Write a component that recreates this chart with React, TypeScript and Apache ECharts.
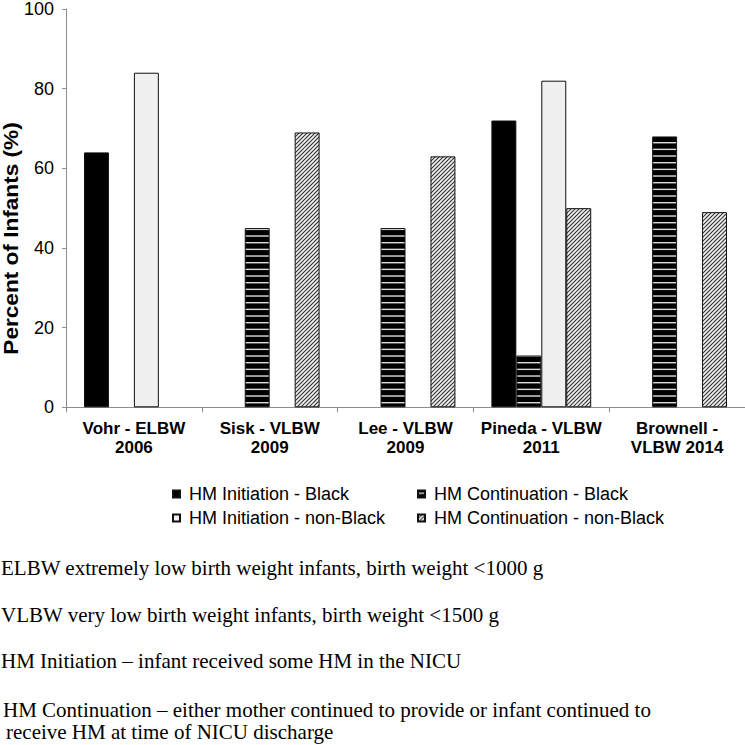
import React, { useEffect, useRef } from "react";
import * as echarts from "echarts";

const categories = [
  "Vohr - ELBW\n2006",
  "Sisk - VLBW\n2009",
  "Lee - VLBW\n2009",
  "Pineda - VLBW\n2011",
  "Brownell -\nVLBW 2014",
];
const seriesNames = [
  "HM Initiation - Black",
  "HM Continuation - Black",
  "HM Initiation - non-Black",
  "HM Continuation - non-Black",
];
const initBlack = [64, null, null, 72, null];
const contBlack = [null, 45, 45, 13, 68];
const initNonBlack = [84, null, null, 82, null];
const contNonBlack = [null, 69, 63, 50, 49];
const yAxisTitle = "Percent of Infants (%)";
const footnotes = [
  "ELBW extremely low birth weight infants, birth weight <1000 g",
  "VLBW very low birth weight infants, birth weight <1500 g",
  "HM Initiation \u2013 infant received some HM in the NICU",
  "HM Continuation \u2013 either mother continued to provide or infant continued to",
  "receive HM at time of NICU discharge",
];

function stripePattern() {
  const c = document.createElement("canvas");
  c.width = 8;
  c.height = 20;
  const ctx = c.getContext("2d")!;
  ctx.fillStyle = "#000";
  ctx.fillRect(0, 0, 8, 20);
  ctx.fillStyle = "#dcdcdc";
  [2, 8.67, 15.33].forEach((y) => ctx.fillRect(0, y, 8, 1.4));
  return { image: c, repeat: "repeat", imageWidth: 8, imageHeight: 20 };
}

function hatchPattern() {
  const c = document.createElement("canvas");
  c.width = 8;
  c.height = 8;
  const ctx = c.getContext("2d")!;
  ctx.fillStyle = "#f4f4f4";
  ctx.fillRect(0, 0, 8, 8);
  ctx.strokeStyle = "#333";
  ctx.lineWidth = 1.15;
  for (let k = -4; k <= 20; k += 4) {
    ctx.beginPath();
    ctx.moveTo(k + 1, -1);
    ctx.lineTo(k - 9, 9);
    ctx.stroke();
  }
  return { image: c, repeat: "repeat", imageWidth: 8, imageHeight: 8 };
}

export default function App() {
  const ref = useRef<HTMLDivElement>(null);
  useEffect(() => {
    if (!ref.current) return;
    const chart = echarts.init(ref.current, null, { renderer: "svg" });
    const sans = '"Liberation Sans", Arial, sans-serif';
    const serif = '"Liberation Serif", "Times New Roman", serif';
    const border = { borderColor: "#111", borderWidth: 1 };
    const footY = [568, 615, 661, 710, 732];
    const footX = [1, 1, 1, 3, 6];
    const legendText = {
      color: "#000",
      fontFamily: sans,
      fontSize: 18,
      lineHeight: 18,
      padding: [0, 0, 0, 4],
    };
    chart.setOption({
      animation: false,
      backgroundColor: "#fff",
      grid: { left: 66, top: 7.3, width: 680, height: 400 },
      xAxis: {
        type: "category",
        data: categories,
        axisLine: { lineStyle: { color: "#8c8c8c", width: 1 } },
        axisTick: { show: true, length: 5, lineStyle: { color: "#8c8c8c" } },
        axisLabel: {
          interval: 0,
          color: "#000",
          fontFamily: sans,
          fontWeight: "bold",
          fontSize: 17,
          lineHeight: 19,
          margin: 12,
        },
      },
      yAxis: {
        type: "value",
        min: 0,
        max: 100,
        interval: 20,
        axisLine: { show: true, lineStyle: { color: "#8c8c8c", width: 1 } },
        axisTick: { show: true, length: 4, lineStyle: { color: "#8c8c8c" } },
        splitLine: { show: false },
        axisLabel: { color: "#000", fontFamily: sans, fontSize: 18, margin: 12 },
      },
      legend: [
        {
          data: [seriesNames[0], seriesNames[2]],
          orient: "vertical",
          left: 172,
          top: 485,
          padding: 0,
          itemWidth: 7,
          itemHeight: 7,
          itemGap: 6,
          icon: "rect",
          textStyle: legendText,
        },
        {
          data: [seriesNames[1], seriesNames[3]],
          orient: "vertical",
          left: 417,
          top: 485,
          padding: 0,
          itemWidth: 7,
          itemHeight: 7,
          itemGap: 6,
          icon: "rect",
          textStyle: legendText,
        },
      ],
      series: [
        {
          name: seriesNames[0],
          type: "bar",
          data: initBlack,
          barGap: "0%",
          barCategoryGap: "26.5%",
          itemStyle: { color: "#000", ...border },
        },
        {
          name: seriesNames[1],
          type: "bar",
          data: contBlack,
          itemStyle: { color: stripePattern(), ...border },
        },
        {
          name: seriesNames[2],
          type: "bar",
          data: initNonBlack,
          itemStyle: { color: "#f0f0f0", ...border },
        },
        {
          name: seriesNames[3],
          type: "bar",
          data: contNonBlack,
          itemStyle: { color: hatchPattern(), ...border },
        },
      ],
      graphic: [
        {
          type: "text",
          x: 11,
          y: 238.5,
          rotation: Math.PI / 2,
          scaleX: 1.16,
          style: {
            text: yAxisTitle,
            font: `bold 19.5px ${sans}`,
            fill: "#000",
            textAlign: "center",
            textVerticalAlign: "middle",
          },
        },
        ...footnotes.map((t, i) => ({
          type: "text",
          x: footX[i],
          y: footY[i],
          style: {
            text: t,
            font: `21px ${serif}`,
            fill: "#000",
            textAlign: "left",
            textVerticalAlign: "middle",
          },
        })),
      ],
    });
    return () => chart.dispose();
  }, []);
  return (
    <div
      ref={ref}
      style={{ position: "fixed", left: 0, top: 0, width: 745, height: 745 }}
    />
  );
}
